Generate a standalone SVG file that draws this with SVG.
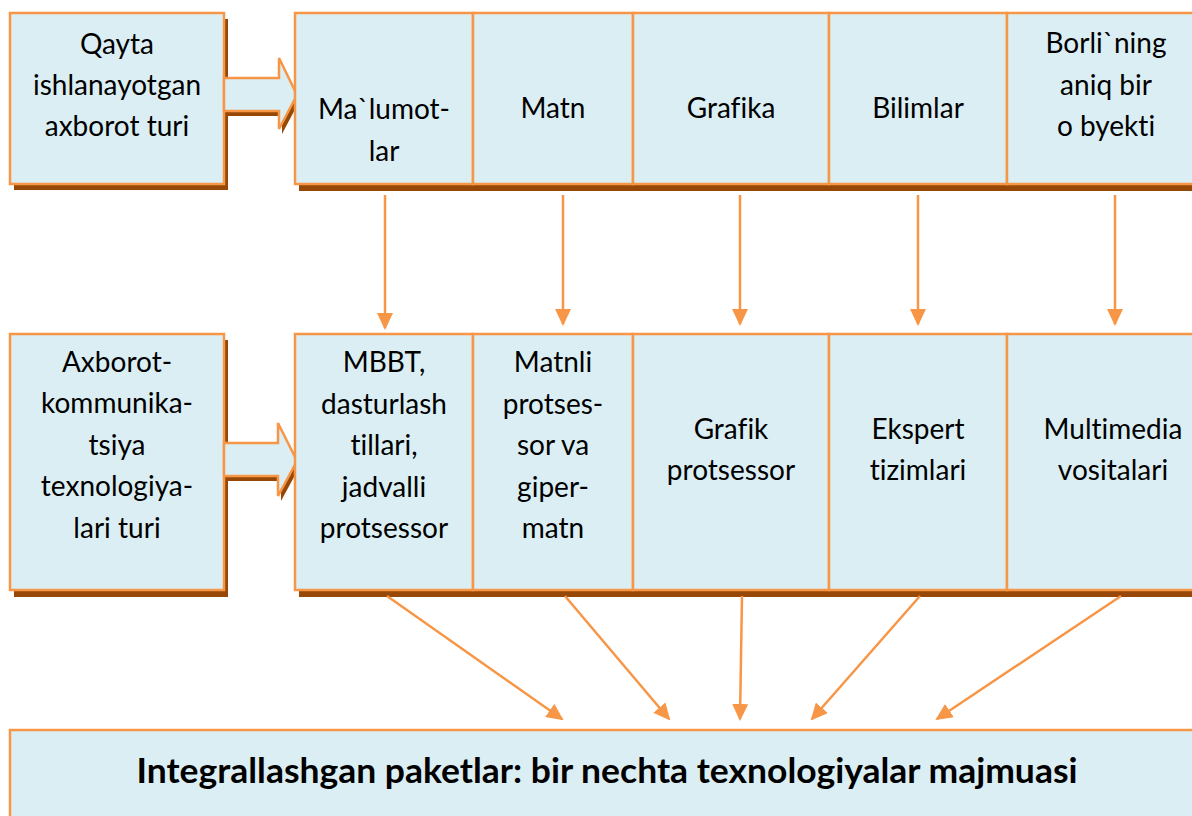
<svg xmlns="http://www.w3.org/2000/svg" width="1192" height="816" viewBox="0 0 1192 816">
<style>
.box{fill:#DBEEF3;stroke:#F79646;stroke-width:2.5}
.sh{fill:#974806}
.t{font-family:Lato,"Liberation Sans",sans-serif;font-size:28px;fill:#000;text-anchor:middle;font-variant-ligatures:none;font-feature-settings:"liga" 0,"dlig" 0,"clig" 0;letter-spacing:0.01px}
.b{font-family:Lato,"Liberation Sans",sans-serif;font-size:34px;font-weight:bold;fill:#000;text-anchor:middle;font-variant-ligatures:none;font-feature-settings:"liga" 0,"clig" 0;letter-spacing:0.01px}
.c{stroke:#F79646;stroke-width:2.5;fill:none;marker-end:url(#ah)}
</style>
<defs>
<marker id="ah" markerWidth="17" markerHeight="16" refX="15" refY="8" orient="auto" markerUnits="userSpaceOnUse" viewBox="0 0 17 16">
<path d="M0,0 L17,8 L0,16 Z" fill="#F79646"/>
</marker>
</defs>
<rect width="1192" height="816" fill="#fff"/>

<g id="row1-label">
<rect class="sh" x="14" y="19" width="214" height="171"/>
<rect class="box" x="10" y="13" width="214" height="171"/>
<text class="t" x="117" y="54">Qayta</text>
<text class="t" x="117" y="95">ishlanayotgan</text>
<text class="t" x="117" y="136">axborot turi</text>
</g>
<g id="arrow1">
<polygon class="sh" points="227,83 282,83 282,63 300,100 282,134 282,116 227,116"/>
<polygon class="box" points="224,78 279,78 279,58 297,95 279,129 279,111 224,111"/>
</g>

<g id="row1">
<rect class="sh" x="299" y="19" width="900" height="172"/>
<g id="n-malumotlar">
<rect class="box" x="295" y="13" width="178" height="171"/>
<text class="t" x="384" y="119">Ma`lumot-</text>
<text class="t" x="384" y="161">lar</text>
</g>
<g id="n-matn">
<rect class="box" x="473" y="13" width="160" height="171"/>
<text class="t" x="553" y="118">Matn</text>
</g>
<g id="n-grafika">
<rect class="box" x="633" y="13" width="196" height="171"/>
<text class="t" x="731" y="118">Grafika</text>
</g>
<g id="n-bilimlar">
<rect class="box" x="829" y="13" width="178" height="171"/>
<text class="t" x="918" y="118">Bilimlar</text>
</g>
<g id="n-borli">
<rect class="box" x="1007" y="13" width="200" height="171"/>
<text class="t" x="1106" y="53">Borli`ning</text>
<text class="t" x="1106" y="95">aniq bir</text>
<text class="t" x="1106" y="136">o byekti</text>
</g>
</g>

<g id="row2-label">
<rect class="sh" x="14" y="340" width="214" height="257"/>
<rect class="box" x="10" y="334" width="214" height="256"/>
<text class="t" x="117" y="372">Axborot-</text>
<text class="t" x="117" y="413">kommunika-</text>
<text class="t" x="117" y="455">tsiya</text>
<text class="t" x="117" y="496">texnologiya-</text>
<text class="t" x="117" y="538">lari turi</text>
</g>
<g id="arrow2">
<polygon class="sh" points="227,448 281,448 281,428 300,466 281,501 281,481 227,481"/>
<polygon class="box" points="224,443 278,443 278,423 297,461 278,496 278,476 224,476"/>
</g>

<g id="row2">
<rect class="sh" x="299" y="340" width="900" height="257"/>
<g id="n-mbbt">
<rect class="box" x="295" y="334" width="178" height="256"/>
<text class="t" x="384" y="372">MBBT,</text>
<text class="t" x="384" y="414">dasturlash</text>
<text class="t" x="384" y="455">tillari,</text>
<text class="t" x="384" y="497">jadvalli</text>
<text class="t" x="384" y="538">protsessor</text>
</g>
<g id="n-matnli">
<rect class="box" x="473" y="334" width="160" height="256"/>
<text class="t" x="553" y="372">Matnli</text>
<text class="t" x="553" y="414">protses-</text>
<text class="t" x="553" y="455">sor va</text>
<text class="t" x="553" y="497">giper-</text>
<text class="t" x="553" y="538">matn</text>
</g>
<g id="n-grafik">
<rect class="box" x="633" y="334" width="196" height="256"/>
<text class="t" x="731" y="439">Grafik</text>
<text class="t" x="731" y="480">protsessor</text>
</g>
<g id="n-ekspert">
<rect class="box" x="829" y="334" width="178" height="256"/>
<text class="t" x="918" y="439">Ekspert</text>
<text class="t" x="918" y="480">tizimlari</text>
</g>
<g id="n-multimedia">
<rect class="box" x="1007" y="334" width="200" height="256"/>
<text class="t" x="1113" y="439">Multimedia</text>
<text class="t" x="1113" y="480">vositalari</text>
</g>
</g>

<g id="n-integral">
<rect class="box" x="10" y="730" width="1195" height="95"/>
<text class="b" x="607" y="783" textLength="941" lengthAdjust="spacingAndGlyphs">Integrallashgan paketlar: bir nechta texnologiyalar majmuasi</text>
</g>

<g id="connectors">
<line class="c" x1="385" y1="195" x2="385" y2="328"/>
<line class="c" x1="563" y1="195" x2="563" y2="324"/>
<line class="c" x1="740" y1="195" x2="740" y2="324"/>
<line class="c" x1="918" y1="195" x2="918" y2="324"/>
<line class="c" x1="1115" y1="195" x2="1115" y2="324"/>
<line class="c" x1="387" y1="596" x2="562" y2="719"/>
<line class="c" x1="565" y1="596" x2="669" y2="719"/>
<line class="c" x1="742" y1="596" x2="740" y2="719"/>
<line class="c" x1="920" y1="596" x2="812" y2="719"/>
<line class="c" x1="1121" y1="596" x2="937" y2="719"/>
</g>
</svg>
